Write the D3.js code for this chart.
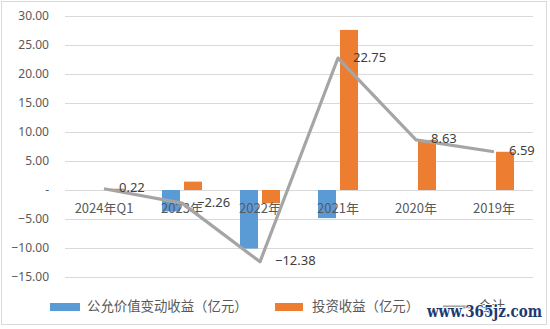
<!DOCTYPE html>
<html>
<head>
<meta charset="utf-8">
<script src="https://cdn.jsdelivr.net/npm/d3@7"></script>
<style>
  html, body { margin: 0; padding: 0; background: #fff; }
  svg { display: block; font-family: "Noto Sans CJK SC", "Noto Sans", sans-serif; }
</style>
</head>
<body>
<div id="chart"></div>
<script>
// income breakdown by period, 亿元
const categories = ["2024年Q1", "2023年", "2022年", "2021年", "2020年", "2019年"];
const fairValue = [0, -3.70, -10.10, -4.85, 0, 0];
const investIncome = [0.22, 1.44, -2.28, 27.60, 8.63, 6.59];
const total = [0.22, -2.26, -12.38, 22.75, 8.63, 6.59];
const yTicks = [-15, -10, -5, 0, 5, 10, 15, 20, 25, 30];
const seriesNames = ["公允价值变动收益（亿元）", "投资收益（亿元）", "合计"];

const width = 550, height = 329;
const colors = { fair: "#5b9bd5", invest: "#ed7d31", total: "#a5a5a5" };

const svg = d3.select("#chart").append("svg")
  .attr("width", width)
  .attr("height", height);

// chart frame
svg.append("rect")
  .attr("x", 1.5).attr("y", 1.5)
  .attr("width", 545).attr("height", 323)
  .attr("fill", "#fff")
  .attr("stroke", "#d9d9d9");

const x = d3.scaleBand().domain(categories).range([65, 533]);
const y = d3.scaleLinear().domain([-15, 30]).range([277, 16]);
const sub = d3.scaleBand().domain(["fair", "invest"]).range([-20, 20]).paddingInner(4 / 22);

// gridlines
svg.append("g")
  .selectAll("line")
  .data(yTicks)
  .join("line")
  .attr("x1", 65).attr("x2", 533)
  .attr("y1", d => Math.round(y(d)) + 0.5)
  .attr("y2", d => Math.round(y(d)) + 0.5)
  .attr("stroke", "#d9d9d9");

// y axis labels
const yAxis = svg.append("g")
  .attr("transform", "translate(49,0)")
  .call(d3.axisLeft(y).tickValues(yTicks).tickSize(0).tickPadding(0)
    .tickFormat(d => d === 0 ? "-" : d3.format(".2f")(d)));
yAxis.select(".domain").remove();
yAxis.selectAll("text")
  .attr("fill", "#595959")
  .attr("font-size", 12)
  .attr("font-family", "\"Noto Sans\", sans-serif");

// bars
const barData = categories.flatMap((c, i) => [
  { cat: c, key: "fair", v: fairValue[i] },
  { cat: c, key: "invest", v: investIncome[i] }
]).filter(d => d.v !== 0);

svg.append("g")
  .selectAll("rect")
  .data(barData)
  .join("rect")
  .attr("x", d => x(d.cat) + x.bandwidth() / 2 + sub(d.key))
  .attr("width", sub.bandwidth())
  .attr("y", d => y(Math.max(0, d.v)))
  .attr("height", d => Math.abs(y(d.v) - y(0)))
  .attr("fill", d => colors[d.key]);

// category labels sit just under the zero line
svg.append("g")
  .selectAll("text")
  .data(categories)
  .join("text")
  .attr("x", d => x(d) + x.bandwidth() / 2)
  .attr("y", y(0) + 19)
  .attr("text-anchor", "middle")
  .attr("dominant-baseline", "middle")
  .attr("fill", "#595959")
  .attr("font-size", 13)
  .text(d => d);

// total line
const line = d3.line()
  .x((d, i) => x(categories[i]) + x.bandwidth() / 2)
  .y(d => y(d));

svg.append("path")
  .datum(total)
  .attr("d", line)
  .attr("fill", "none")
  .attr("stroke", colors.total)
  .attr("stroke-width", 3.2)
  .attr("stroke-linejoin", "round");

svg.append("g")
  .selectAll("text")
  .data(total)
  .join("text")
  .attr("x", (d, i) => x(categories[i]) + x.bandwidth() / 2 + 15)
  .attr("y", d => y(d))
  .attr("dominant-baseline", "middle")
  .attr("fill", "#404040")
  .attr("font-size", 13)
  .attr("font-family", "\"Noto Sans\", sans-serif")
  .text(d => d3.format(".2f")(d));

// legend
const legend = svg.append("g");
legend.append("rect").attr("x", 50).attr("y", 303).attr("width", 30).attr("height", 8).attr("fill", colors.fair);
legend.append("rect").attr("x", 275).attr("y", 303).attr("width", 28).attr("height", 8).attr("fill", colors.invest);
legend.append("line").attr("x1", 443).attr("x2", 473).attr("y1", 307).attr("y2", 307)
  .attr("stroke", colors.total).attr("stroke-width", 3.2);
legend.selectAll("text")
  .data(seriesNames)
  .join("text")
  .attr("x", (d, i) => [87, 312, 478][i])
  .attr("y", 307)
  .attr("dominant-baseline", "middle")
  .attr("fill", "#595959")
  .attr("font-size", 13.4)
  .text(d => d);

// site stamp
svg.append("text")
  .attr("x", 427).attr("y", 317)
  .attr("textLength", 115)
  .attr("lengthAdjust", "spacingAndGlyphs")
  .attr("font-family", "\"DejaVu Serif\", \"Liberation Serif\", serif")
  .attr("font-weight", "bold")
  .attr("font-size", 17)
  .attr("fill", "#1c3a70")
  .attr("stroke", "#fff")
  .attr("stroke-width", 2)
  .attr("paint-order", "stroke")
  .text("www.365jz.com");
</script>
</body>
</html>
